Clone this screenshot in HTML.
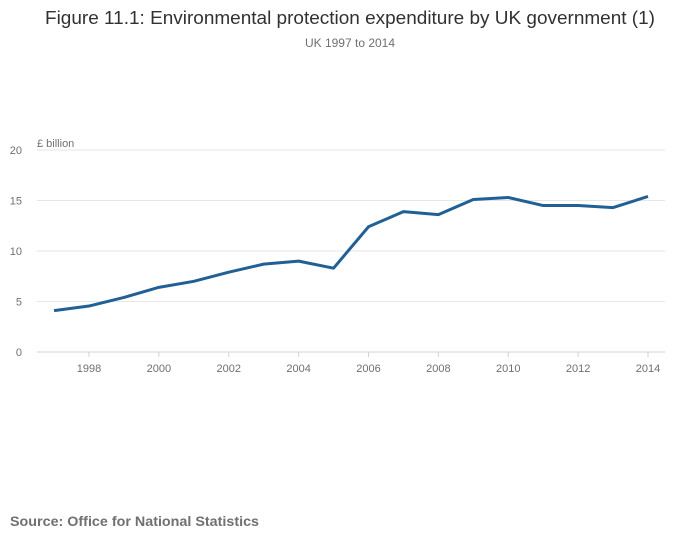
<!DOCTYPE html>
<html><head><meta charset="utf-8"><style>
body{margin:0;background:#fff;font-family:"Liberation Sans",sans-serif;}
#wrap{position:relative;width:700px;height:549px;overflow:hidden;}
</style></head><body>
<div id="wrap">
<svg id="chart" width="700" height="549">
<text x="45" y="24" textLength="610" lengthAdjust="spacingAndGlyphs" font-size="18" fill="#323132">Figure 11.1: Environmental protection expenditure by UK government (1)</text>
<text x="350" y="47" text-anchor="middle" font-size="12" fill="#707071">UK 1997 to 2014</text>
<text x="37" y="147" font-size="11" fill="#707071">£ billion</text>
<g id="grid"></g><g id="xaxis"></g>
<path id="line" fill="none" stroke="#206095" stroke-width="3" stroke-linejoin="round"></path>
<text x="10" y="526" textLength="249" lengthAdjust="spacingAndGlyphs" font-size="14" font-weight="bold" fill="#707071">Source: Office for National Statistics</text>
</svg>
</div>
<script>
const years=[1997,1998,1999,2000,2001,2002,2003,2004,2005,2006,2007,2008,2009,2010,2011,2012,2013,2014];
const values=[4.1,4.55,5.4,6.4,7.0,7.9,8.7,9.0,8.3,12.4,13.9,13.6,15.1,15.3,14.5,14.5,14.3,15.4];
const yTicks=[0,5,10,15,20];
const xTicks=[1998,2000,2002,2004,2006,2008,2010,2012,2014];
const NS="http://www.w3.org/2000/svg";
const L=37,R=665,x0=89,x1=648;
const xs=y=>x0+(y-1998)*(x1-x0)/16;
const ys=v=>352-v*10.1;
const g=document.getElementById('grid');
yTicks.forEach(t=>{
 const ln=document.createElementNS(NS,'line');
 ln.setAttribute('x1',L);ln.setAttribute('x2',R);ln.setAttribute('y1',ys(t));ln.setAttribute('y2',ys(t));
 ln.setAttribute('stroke',t===0?'#c8d4e0':'#e6e6e6');
 
 
 g.appendChild(ln);
 const tx=document.createElementNS(NS,'text');
 tx.setAttribute('x',22);tx.setAttribute('y',ys(t)+4);tx.setAttribute('text-anchor','end');
 tx.setAttribute('font-size','11');tx.setAttribute('fill','#707071');tx.textContent=t;
 
 
 g.appendChild(tx);
});
const xa=document.getElementById('xaxis');
xTicks.forEach(t=>{
 const ln=document.createElementNS(NS,'line');
 ln.setAttribute('x1',xs(t));ln.setAttribute('x2',xs(t));ln.setAttribute('y1',352);ln.setAttribute('y2',357);
 ln.setAttribute('stroke','#c8d4e0');
 
 
 xa.appendChild(ln);
 const tx=document.createElementNS(NS,'text');
 tx.setAttribute('x',xs(t));tx.setAttribute('y',372);tx.setAttribute('text-anchor','middle');
 tx.setAttribute('font-size','11');tx.setAttribute('fill','#707071');tx.textContent=t;
 
 
 xa.appendChild(tx);
});
document.getElementById('line').setAttribute('d',years.map((y,i)=>(i?'L':'M')+xs(y)+','+ys(values[i])).join(''));
</script>
</body></html>
